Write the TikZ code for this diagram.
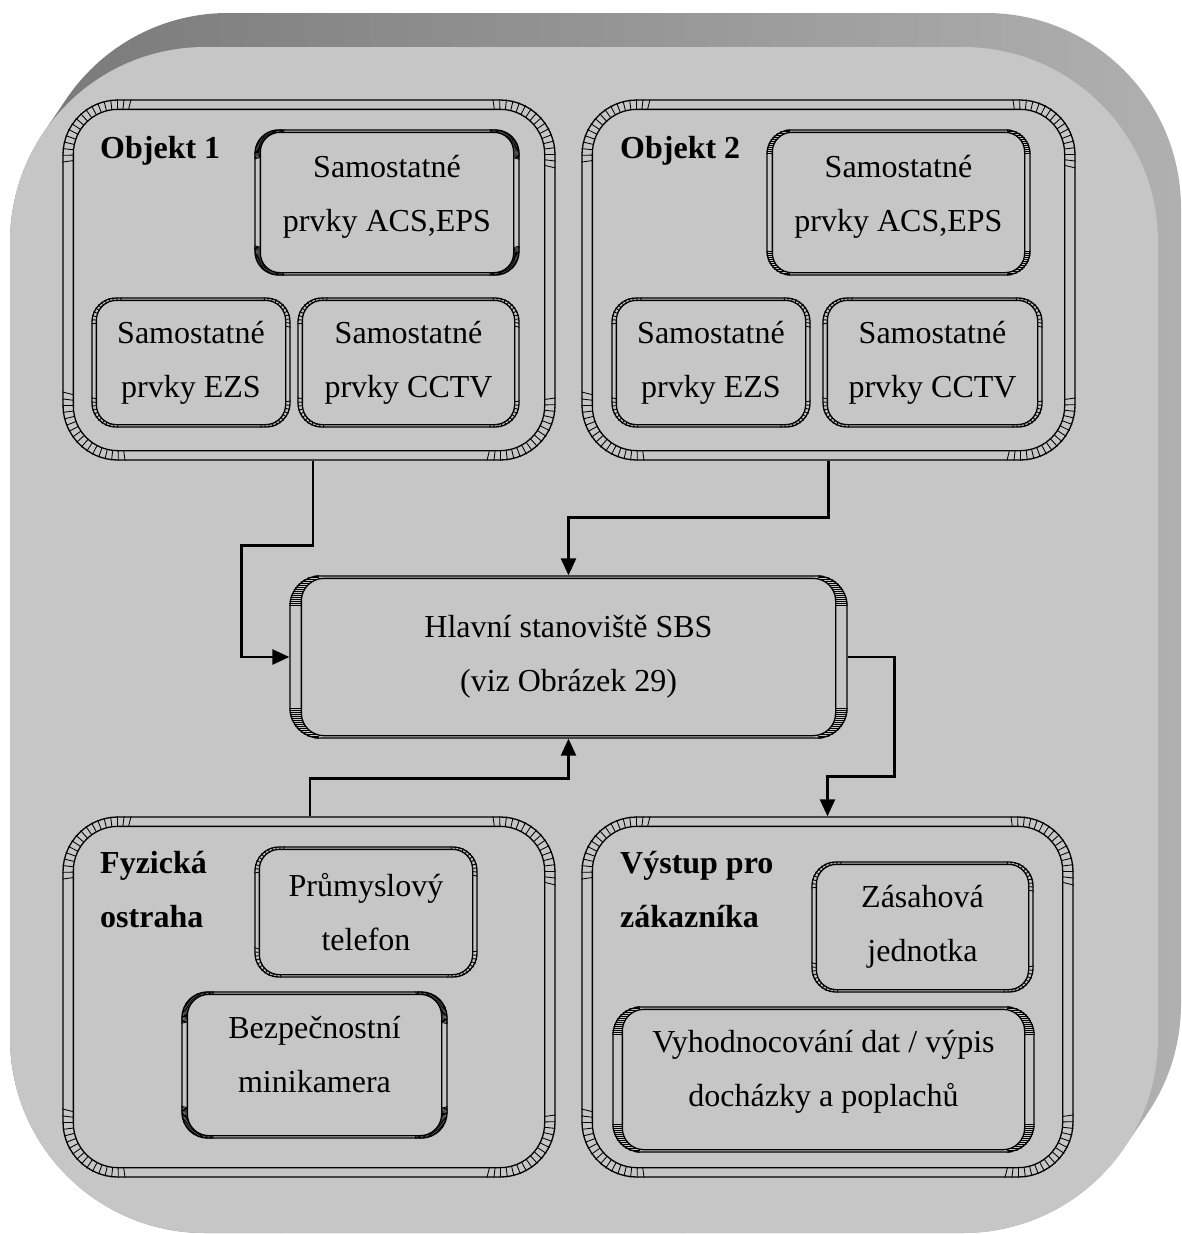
\documentclass[tikz,border=0pt]{standalone}
\usepackage{fontspec}
\setmainfont{Liberation Serif}
\usetikzlibrary{arrows.meta,calc}

\definecolor{facegray}{HTML}{C6C6C6}
\definecolor{slabdark}{HTML}{787878}
\definecolor{slablight}{HTML}{B0B0B0}

\tikzset{
  frameline/.style={line width=1.3pt, draw=black},
  hatchline/.style={line width=0.85pt, black},
  panel/.style={draw, frameline, rectangle, inner sep=0pt, align=center,
    font=\fontsize{32}{54}\selectfont},
  paneltitle/.style={inner sep=0pt, align=left,
    font=\fontsize{32}{54}\selectfont\bfseries},
  link/.style={line width=2.5pt, -{Triangle[length=17pt,width=15pt]}},
}

% Bevelled frame: inner outline plus hatched corners.
% #1 node, #2 side gap, #3 top/bottom gap, #4 outer corner radius,
% #5 hatch kind (r = radial fan, h = horizontal lines), #6 hatch step
\newcommand\bevelframe[6]{%
  \pgfmathsetmacro\bvri{#4-(#2+#3)/2}%
  \pgfmathsetmacro\bvlen{2*#4}%
  \draw[frameline, rounded corners=\bvri pt]
    ([xshift=#2pt,yshift=#3pt]#1.south west) rectangle
    ([xshift=-#2pt,yshift=-#3pt]#1.north east);
  \begin{scope}[even odd rule, rounded corners=#4pt]
    \clip
      (#1.south west) rectangle (#1.north east)
      [rounded corners=\bvri pt]
      ([xshift=#2pt,yshift=#3pt]#1.south west) rectangle
      ([xshift=-#2pt,yshift=-#3pt]#1.north east);
    \foreach \bvsx/\bvsy/\bva/\bvcn in {-1/1/90/north west,1/1/0/north east,-1/-1/180/south west,1/-1/270/south east}{%
      \coordinate (bvc) at ([xshift={-(\bvsx)*#4pt},yshift={-(\bvsy)*#4pt}]#1.\bvcn);
      \if#5r
        \pgfmathtruncatemacro\bvn{118/#6}%
        \foreach \bvk in {0,...,\bvn}{%
          \draw[hatchline, sharp corners] (bvc) -- ++({\bva-14+\bvk*#6}:\bvlen pt);}%
      \else
        \pgfmathtruncatemacro\bvn{#4/#6}%
        \foreach \bvk in {0,...,\bvn}{%
          \draw[hatchline, sharp corners] ([yshift={(\bvsy)*\bvk*#6pt}]bvc) -- ++({(\bvsx)*(#4+3)*1pt},0pt);}%
      \fi
    }%
  \end{scope}%
}

\begin{document}
\begin{tikzpicture}[x=1pt,y=-1pt]
\useasboundingbox (0,0) rectangle (1181,1234);

% extruded slab behind everything
\begin{scope}[rounded corners=195pt]
  \clip foreach \k in {0,...,17} {
    ({10+23*\k/17},{47-34*\k/17}) rectangle ({1158+23*\k/17},{1233-34*\k/17}) };
  \shade[sharp corners, left color=slabdark, right color=slablight] (0,0) rectangle (1181,1234);
\end{scope}
\fill[facegray, rounded corners=195pt] (10,47) rectangle (1158,1233);

% ---- Objekt 1
\node[panel, rounded corners=55pt, minimum width=492pt, minimum height=360pt] (obj1) at (309,280) {};
\bevelframe{obj1}{11}{10}{55}{r}{7}
\node[paneltitle, anchor=base west] (obj1title) at (100,158) {Objekt 1};
\node[panel, rounded corners=24pt, minimum width=264pt, minimum height=145pt, text depth=19pt] (o1acs) at (387,202.5) {Samostatné\\prvky ACS,EPS};
\bevelframe{o1acs}{6}{3}{24}{r}{3}
\node[panel, rounded corners=24pt, minimum width=198pt, minimum height=129pt] (o1ezs) at (191,362.5) {Samostatné\\prvky EZS};
\bevelframe{o1ezs}{5}{3}{24}{r}{10}
\node[panel, rounded corners=24pt, minimum width=221pt, minimum height=129pt] (o1cctv) at (408.5,362.5) {Samostatné\\prvky CCTV};
\bevelframe{o1cctv}{5}{3}{24}{r}{10}

% ---- Objekt 2
\node[panel, rounded corners=55pt, minimum width=493pt, minimum height=360pt] (obj2) at (828.5,280) {};
\bevelframe{obj2}{11}{10}{55}{r}{7}
\node[paneltitle, anchor=base west] (obj2title) at (620,158) {Objekt 2};
\node[panel, rounded corners=24pt, minimum width=263pt, minimum height=145pt, text depth=19pt] (o2acs) at (898.5,202.5) {Samostatné\\prvky ACS,EPS};
\bevelframe{o2acs}{6}{3}{24}{h}{2}
\node[panel, rounded corners=24pt, minimum width=198pt, minimum height=129pt] (o2ezs) at (711,362.5) {Samostatné\\prvky EZS};
\bevelframe{o2ezs}{5}{3}{24}{r}{10}
\node[panel, rounded corners=24pt, minimum width=219pt, minimum height=129pt] (o2cctv) at (932.5,362.5) {Samostatné\\prvky CCTV};
\bevelframe{o2cctv}{5}{3}{24}{r}{10}

% ---- main station
\node[panel, rounded corners=30pt, minimum width=557pt, minimum height=162pt] (hall) at (568.5,657) {Hlavní stanoviště SBS\\(viz Obrázek 29)};
\bevelframe{hall}{12}{3}{30}{h}{2}

% ---- physical guarding
\node[panel, rounded corners=55pt, minimum width=492pt, minimum height=360pt] (fyz) at (309,997) {};
\bevelframe{fyz}{11}{10}{55}{r}{7}
\node[paneltitle, anchor=base west] (fyztitle) at (100,927) {Fyzická\\ostraha};
\node[panel, rounded corners=24pt, minimum width=222pt, minimum height=130pt] (phone) at (366,912) {Průmyslový\\telefon};
\bevelframe{phone}{5}{3}{24}{r}{10}
\node[panel, rounded corners=26pt, minimum width=265pt, minimum height=146pt, text depth=22pt] (cam) at (314.5,1065) {Bezpečnostní\\minikamera};
\bevelframe{cam}{6}{3}{26}{r}{3}

% ---- customer output
\node[panel, rounded corners=55pt, minimum width=491pt, minimum height=360pt] (out) at (827.5,997) {};
\bevelframe{out}{11}{10}{55}{r}{7}
\node[paneltitle, anchor=base west] (outtitle) at (620,927) {Výstup pro\\zákazníka};
\node[panel, rounded corners=24pt, minimum width=221pt, minimum height=130pt] (unit) at (922.5,927) {Zásahová\\jednotka};
\bevelframe{unit}{5}{3}{24}{r}{10}
\node[panel, rounded corners=28pt, minimum width=421pt, minimum height=145pt, text depth=23pt] (report) at (823.5,1079.5) {Vyhodnocování dat / výpis\\docházky a poplachů};
\bevelframe{report}{10}{3}{28}{h}{2}

% ---- connectors
\draw[link] ([xshift=4pt]obj1.south) -- ++(0,85) -| ([xshift=-48pt]hall.west) -- (hall.west);
\draw[link] (obj2.south) -- ++(0,57) -| (hall.north);
\draw[link] (hall.east) -- ++(47,0) |- ([yshift=40pt]out.north) -- (out.north);
\draw[link] ([xshift=1pt]fyz.north) -- ++(0,-38) -| (hall.south);
\end{tikzpicture}
\end{document}
